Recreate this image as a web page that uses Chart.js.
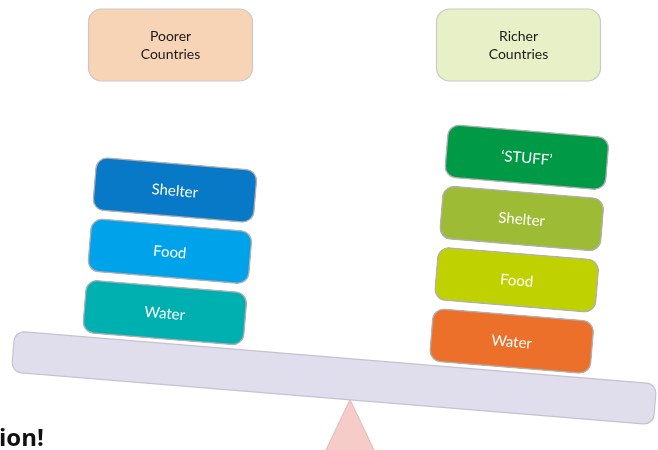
<!DOCTYPE html>
<html>
<head>
<meta charset="utf-8">
<script src="https://cdn.jsdelivr.net/npm/chart.js@4.4.1/dist/chart.umd.min.js"></script>
<style>
  html, body { margin: 0; padding: 0; background: #fff; }
</style>
</head>
<body>
<canvas id="myChart" width="658" height="450"></canvas>
<script>
/* data */
const groups = [['Poorer', 'Countries'], ['Richer', 'Countries']];
const poorerNeeds = ['Water', 'Food', 'Shelter'];
const richerNeeds = ['Water', 'Food', 'Shelter', '\u2018STUFF\u2019'];
const beamTilt = 4.7; // degrees, the scale leans to the richer side
const cornerText = 'ion!';

/* colours */
const poorerColors = ['#00b0b1', '#00a3e9', '#0879c6'];
const richerColors = ['#ec6f2a', '#c0d100', '#9ebb36', '#009a46'];
const headerColors = ['#f8d4b7', '#e8f0c7'];
const gap = 0.13; // space between stacked boxes, in level units

/* one floating bar per box */
const datasets = [];
[poorerNeeds, richerNeeds].forEach(function (needs, g) {
  const colors = g === 0 ? poorerColors : richerColors;
  needs.forEach(function (need, i) {
    datasets.push({
      label: need,
      data: [{ x: g, y: [i + gap / 2, i + 1 - gap / 2] }],
      backgroundColor: colors[i],
      clip: false
    });
  });
});

function pivotOf(chart) {
  const top = chart.scales.y.getPixelForValue(0);
  return { x: 350, y: top + 20.5, top: top };
}

/* draws the beam, turns the canvas for the boxes, then the rest */
const seesaw = {
  id: 'seesaw',
  beforeDatasetsDraw(chart) {
    const ctx = chart.ctx;
    const p = pivotOf(chart);

    // fulcrum
    ctx.save();
    ctx.beginPath();
    ctx.moveTo(p.x, p.y + 20.5);
    ctx.lineTo(p.x + 25, 452);
    ctx.lineTo(p.x - 25, 452);
    ctx.closePath();
    ctx.fillStyle = '#f5ccc8';
    ctx.fill();
    ctx.strokeStyle = '#e3b7b3';
    ctx.lineWidth = 1;
    ctx.stroke();
    ctx.restore();

    ctx.save();
    ctx.translate(p.x, p.y);
    ctx.rotate(beamTilt * Math.PI / 180);
    ctx.translate(-p.x, -p.y);

    // beam
    ctx.beginPath();
    ctx.roundRect(12, p.top, 644, 41, 10);
    ctx.fillStyle = '#e0dded';
    ctx.fill();
    ctx.strokeStyle = '#c6c2d0';
    ctx.lineWidth = 1.2;
    ctx.stroke();
  },
  afterDatasetsDraw(chart) {
    const ctx = chart.ctx;
    ctx.fillStyle = '#ffffff';
    ctx.font = '15px Lato, "Open Sans", sans-serif';
    ctx.textAlign = 'center';
    ctx.textBaseline = 'middle';
    chart.data.datasets.forEach(function (ds, i) {
      const el = chart.getDatasetMeta(i).data[0];
      ctx.fillText(ds.label, el.x, (el.y + el.base) / 2 + 1);
    });
    ctx.restore();

    // group headers
    ctx.save();
    groups.forEach(function (lines, g) {
      const cx = chart.scales.x.getPixelForValue(g) + 10.5;
      ctx.beginPath();
      ctx.roundRect(cx - 82, 9, 164, 72, 13);
      ctx.fillStyle = headerColors[g];
      ctx.fill();
      ctx.strokeStyle = '#c9c9c9';
      ctx.lineWidth = 1.2;
      ctx.stroke();
      ctx.fillStyle = '#1a1a1a';
      ctx.font = '14px Lato, "Open Sans", sans-serif';
      ctx.textAlign = 'center';
      ctx.textBaseline = 'middle';
      ctx.fillText(lines[0], cx, 36);
      ctx.fillText(lines[1], cx, 54);
    });

    ctx.fillStyle = '#111';
    ctx.font = 'bold 24px "Open Sans", Lato, sans-serif';
    ctx.textAlign = 'left';
    ctx.textBaseline = 'alphabetic';
    ctx.fillText(cornerText, -1, 446);
    ctx.restore();
  }
};

new Chart(document.getElementById('myChart'), {
  type: 'bar',
  data: { datasets: datasets },
  options: {
    responsive: false,
    animation: false,
    layout: { padding: 0 },
    plugins: { legend: { display: false }, tooltip: { enabled: false } },
    datasets: {
      bar: {
        grouped: false,
        barThickness: 162,
        borderRadius: 12,
        borderSkipped: false,
        borderWidth: 1.5,
        borderColor: 'rgba(150,150,150,0.75)'
      }
    },
    scales: {
      x: { type: 'linear', display: false, offset: false, min: -0.4598, max: 1.4310 },
      y: { type: 'linear', display: false, min: -1.484, max: 5.833 }
    }
  },
  plugins: [seesaw]
});
</script>
</body>
</html>
